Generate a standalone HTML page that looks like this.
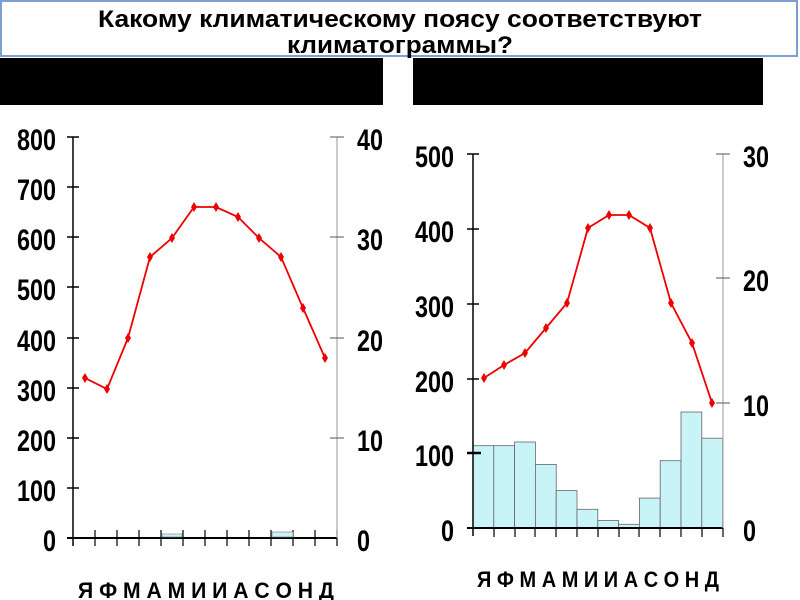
<!DOCTYPE html>
<html><head><meta charset="utf-8"><style>
html,body{margin:0;padding:0;background:#fff;}
svg{display:block;}
text{font-family:"Liberation Sans","DejaVu Sans",sans-serif;font-weight:bold;fill:#000;}
</style></head><body>
<svg width="800" height="600" viewBox="0 0 800 600" xmlns="http://www.w3.org/2000/svg">
<rect x="1" y="1" width="796" height="55" fill="#fff" stroke="#7f9fd0" stroke-width="2"/>
<text x="400" y="27" font-size="24" text-anchor="middle" textLength="604" lengthAdjust="spacingAndGlyphs">Какому климатическому поясу соответствуют</text>
<text x="400" y="53" font-size="24" text-anchor="middle" textLength="226" lengthAdjust="spacingAndGlyphs">климатограммы?</text>
<rect x="0" y="58" width="383" height="47" fill="#000"/>
<rect x="413" y="58" width="350" height="47" fill="#000"/>

<!-- LEFT CHART -->
<g stroke="#000" stroke-width="1.5">
<line x1="73" y1="137" x2="73" y2="546"/>
<line x1="67" y1="538" x2="337" y2="538" stroke-width="2"/>
<line x1="67" y1="137" x2="79" y2="137"/><line x1="67" y1="187" x2="79" y2="187"/>
<line x1="67" y1="237" x2="79" y2="237"/><line x1="67" y1="287" x2="79" y2="287"/>
<line x1="67" y1="338" x2="79" y2="338"/><line x1="67" y1="388" x2="79" y2="388"/>
<line x1="67" y1="438" x2="79" y2="438"/><line x1="67" y1="488" x2="79" y2="488"/>
</g>
<g stroke="#000" stroke-width="1.2">
<line x1="95" y1="530" x2="95" y2="546"/><line x1="117" y1="530" x2="117" y2="546"/><line x1="139" y1="530" x2="139" y2="546"/>
<line x1="161" y1="530" x2="161" y2="546"/><line x1="183" y1="530" x2="183" y2="546"/><line x1="205" y1="530" x2="205" y2="546"/>
<line x1="227" y1="530" x2="227" y2="546"/><line x1="249" y1="530" x2="249" y2="546"/><line x1="271" y1="530" x2="271" y2="546"/>
<line x1="293" y1="530" x2="293" y2="546"/><line x1="315" y1="530" x2="315" y2="546"/><line x1="337" y1="530" x2="337" y2="546"/>
</g>
<line x1="337" y1="137" x2="337" y2="538" stroke="#aaa" stroke-width="1.2"/>
<g stroke="#555" stroke-width="1">
<line x1="330" y1="137" x2="344" y2="137"/><line x1="330" y1="237" x2="344" y2="237"/>
<line x1="330" y1="338" x2="344" y2="338"/><line x1="330" y1="438" x2="344" y2="438"/>
</g>
<rect x="162" y="534" width="20" height="3" fill="#c8f4f8" stroke="#777" stroke-width="0.6"/>
<rect x="272" y="532" width="21" height="5" fill="#c8f4f8" stroke="#777" stroke-width="0.6"/>
<g font-size="30" text-anchor="end">
<text x="56" y="150" transform="translate(56 0) scale(0.78 1) translate(-56 0)">800</text>
<text x="56" y="200" transform="translate(56 0) scale(0.78 1) translate(-56 0)">700</text>
<text x="56" y="250" transform="translate(56 0) scale(0.78 1) translate(-56 0)">600</text>
<text x="56" y="300" transform="translate(56 0) scale(0.78 1) translate(-56 0)">500</text>
<text x="56" y="351" transform="translate(56 0) scale(0.78 1) translate(-56 0)">400</text>
<text x="56" y="401" transform="translate(56 0) scale(0.78 1) translate(-56 0)">300</text>
<text x="56" y="451" transform="translate(56 0) scale(0.78 1) translate(-56 0)">200</text>
<text x="56" y="501" transform="translate(56 0) scale(0.78 1) translate(-56 0)">100</text>
<text x="56" y="551" transform="translate(56 0) scale(0.78 1) translate(-56 0)">0</text>
</g>
<g font-size="30">
<text x="357" y="150" transform="translate(357 0) scale(0.78 1) translate(-357 0)">40</text>
<text x="357" y="250" transform="translate(357 0) scale(0.78 1) translate(-357 0)">30</text>
<text x="357" y="351" transform="translate(357 0) scale(0.78 1) translate(-357 0)">20</text>
<text x="357" y="451" transform="translate(357 0) scale(0.78 1) translate(-357 0)">10</text>
<text x="357" y="551" transform="translate(357 0) scale(0.78 1) translate(-357 0)">0</text>
</g>
<text x="78" y="598" font-size="22" textLength="256" lengthAdjust="spacingAndGlyphs">Я Ф М А М И И А С О Н Д</text>
<polyline fill="none" stroke="#e00" stroke-width="1.8" points="85,378 107,389 128,338 150,257 172,238 194,207 216,207 238,217 259,238 281,257 303,308 325,358"/>
<g fill="#e00">
<path d="M85,373 l3,5 l-3,5 l-3,-5z"/><path d="M107,384 l3,5 l-3,5 l-3,-5z"/><path d="M128,333 l3,5 l-3,5 l-3,-5z"/>
<path d="M150,252 l3,5 l-3,5 l-3,-5z"/><path d="M172,233 l3,5 l-3,5 l-3,-5z"/><path d="M194,202 l3,5 l-3,5 l-3,-5z"/>
<path d="M216,202 l3,5 l-3,5 l-3,-5z"/><path d="M238,212 l3,5 l-3,5 l-3,-5z"/><path d="M259,233 l3,5 l-3,5 l-3,-5z"/>
<path d="M281,252 l3,5 l-3,5 l-3,-5z"/><path d="M303,303 l3,5 l-3,5 l-3,-5z"/><path d="M325,353 l3,5 l-3,5 l-3,-5z"/>
</g>

<!-- RIGHT CHART -->
<g fill="#c8f4f8" stroke="#666" stroke-width="0.8">
<rect x="473" y="445.7" width="20.8" height="82.3"/>
<rect x="493.8" y="445.7" width="20.8" height="82.3"/>
<rect x="514.6" y="442" width="20.8" height="86"/>
<rect x="535.4" y="464.4" width="20.8" height="63.6"/>
<rect x="556.2" y="490.6" width="20.8" height="37.4"/>
<rect x="577" y="509.3" width="20.8" height="18.7"/>
<rect x="597.8" y="520.5" width="20.8" height="7.5"/>
<rect x="618.6" y="524.3" width="20.8" height="3.7"/>
<rect x="639.4" y="498.1" width="20.8" height="29.9"/>
<rect x="660.2" y="460.7" width="20.8" height="67.3"/>
<rect x="681" y="412" width="20.8" height="116"/>
<rect x="701.8" y="438.2" width="20.8" height="89.8"/>
</g>
<g stroke="#000" stroke-width="1.5">
<line x1="473" y1="154" x2="473" y2="536"/>
<line x1="467" y1="528" x2="723" y2="528" stroke-width="2"/>
<line x1="467" y1="154" x2="479" y2="154"/><line x1="467" y1="229" x2="479" y2="229"/>
<line x1="467" y1="304" x2="479" y2="304"/><line x1="467" y1="379" x2="479" y2="379"/>
<line x1="467" y1="453" x2="481" y2="453" stroke-width="2.5"/>
</g>
<g stroke="#000" stroke-width="1.2">
<line x1="494" y1="528" x2="494" y2="537"/><line x1="515" y1="528" x2="515" y2="537"/><line x1="535" y1="528" x2="535" y2="537"/>
<line x1="556" y1="528" x2="556" y2="537"/><line x1="577" y1="528" x2="577" y2="537"/><line x1="598" y1="528" x2="598" y2="537"/>
<line x1="619" y1="528" x2="619" y2="537"/><line x1="639" y1="528" x2="639" y2="537"/><line x1="660" y1="528" x2="660" y2="537"/>
<line x1="681" y1="528" x2="681" y2="537"/><line x1="702" y1="528" x2="702" y2="537"/><line x1="723" y1="528" x2="723" y2="537"/>
</g>
<line x1="723" y1="154" x2="723" y2="528" stroke="#aaa" stroke-width="1.2"/>
<g stroke="#555" stroke-width="1">
<line x1="716" y1="154" x2="730" y2="154"/><line x1="716" y1="278" x2="730" y2="278"/><line x1="716" y1="403" x2="730" y2="403"/>
</g>
<g font-size="30" text-anchor="end">
<text x="454" y="167" transform="translate(454 0) scale(0.78 1) translate(-454 0)">500</text>
<text x="454" y="242" transform="translate(454 0) scale(0.78 1) translate(-454 0)">400</text>
<text x="454" y="317" transform="translate(454 0) scale(0.78 1) translate(-454 0)">300</text>
<text x="454" y="392" transform="translate(454 0) scale(0.78 1) translate(-454 0)">200</text>
<text x="454" y="466" transform="translate(454 0) scale(0.78 1) translate(-454 0)">100</text>
<text x="454" y="541" transform="translate(454 0) scale(0.78 1) translate(-454 0)">0</text>
</g>
<g font-size="30">
<text x="743" y="167" transform="translate(743 0) scale(0.78 1) translate(-743 0)">30</text>
<text x="743" y="291" transform="translate(743 0) scale(0.78 1) translate(-743 0)">20</text>
<text x="743" y="416" transform="translate(743 0) scale(0.78 1) translate(-743 0)">10</text>
<text x="743" y="541" transform="translate(743 0) scale(0.78 1) translate(-743 0)">0</text>
</g>
<text x="477" y="587" font-size="22" textLength="242" lengthAdjust="spacingAndGlyphs">Я Ф М А М И И А С О Н Д</text>
<polyline fill="none" stroke="#e00" stroke-width="1.8" points="484,378 504,365 525,353 546,328 567,303 588,228 609,215 629,215 650,228 671,303 692,343 712,403"/>
<g fill="#e00">
<path d="M484,373 l3,5 l-3,5 l-3,-5z"/><path d="M504,360 l3,5 l-3,5 l-3,-5z"/><path d="M525,348 l3,5 l-3,5 l-3,-5z"/>
<path d="M546,323 l3,5 l-3,5 l-3,-5z"/><path d="M567,298 l3,5 l-3,5 l-3,-5z"/><path d="M588,223 l3,5 l-3,5 l-3,-5z"/>
<path d="M609,210 l3,5 l-3,5 l-3,-5z"/><path d="M629,210 l3,5 l-3,5 l-3,-5z"/><path d="M650,223 l3,5 l-3,5 l-3,-5z"/>
<path d="M671,298 l3,5 l-3,5 l-3,-5z"/><path d="M692,338 l3,5 l-3,5 l-3,-5z"/><path d="M712,398 l3,5 l-3,5 l-3,-5z"/>
</g>
</svg>
</body></html>
